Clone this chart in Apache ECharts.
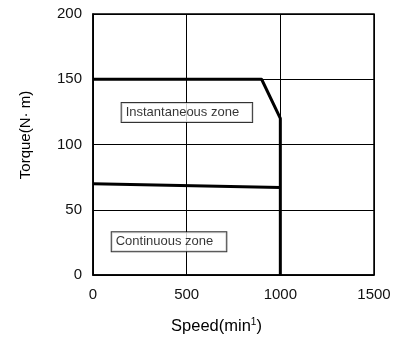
<!DOCTYPE html>
<html>
<head>
<meta charset="utf-8">
<script src="https://cdn.jsdelivr.net/npm/echarts@6/dist/echarts.min.js"></script>
<style>
  html, body { margin: 0; padding: 0; background: #fff; }
  #chart { width: 403px; height: 337px; }
</style>
</head>
<body>
<div id="chart"></div>
<script>
// Torque–speed envelope of the servo motor
const speedTicks = [0, 500, 1000, 1500];
const torqueTicks = [0, 50, 100, 150, 200];

// Instantaneous (peak) torque limit
const instSpeed = [0, 900, 1000, 1000];
const instTorque = [150, 150, 120, 0];

// Continuous (rated) torque limit
const contSpeed = [0, 1000];
const contTorque = [70, 67];

// Zone captions, anchored at the left edge of each box
const zoneNames = ['Instantaneous zone', 'Continuous zone'];
const zoneSpeed = [153, 100];
const zoneTorque = [124.5, 25.5];

const font = 'Liberation Sans, Arial, sans-serif';

const chart = echarts.init(document.getElementById('chart'), null, { renderer: 'canvas' });

chart.setOption({
  animation: false,
  backgroundColor: '#fff',
  grid: {
    left: 93, top: 14, right: 29, bottom: 62,
    outerBoundsMode: 'none',
    containLabel: false,
    show: true, borderColor: '#000', borderWidth: 1.5, backgroundColor: 'transparent'
  },
  xAxis: {
    type: 'value',
    min: speedTicks[0], max: speedTicks[speedTicks.length - 1], interval: 500,
    name: '{a|Speed(min}{s|1}{a|)}',
    nameLocation: 'middle',
    nameGap: 42,
    nameTextStyle: {
      padding: [0, 34, 0, 0],
      rich: {
        a: { fontFamily: font, fontSize: 16.5, color: '#000', lineHeight: 18 },
        s: { fontFamily: font, fontSize: 10, color: '#000', lineHeight: 18, padding: [0, 0, 8, 0] }
      }
    },
    axisLine: { show: true, lineStyle: { color: '#000', width: 1.5 } },
    axisTick: { show: false },
    axisLabel: { color: '#111', fontFamily: font, fontSize: 15, margin: 12, formatter: v => String(v) },
    splitLine: { show: true, lineStyle: { color: '#000', width: 1 } }
  },
  yAxis: {
    type: 'value',
    min: torqueTicks[0], max: torqueTicks[torqueTicks.length - 1], interval: 50,
    name: 'Torque(N\u00b7 m)',
    nameLocation: 'middle',
    nameGap: 60,
    nameTextStyle: { fontFamily: font, fontSize: 15, color: '#000', padding: [0, 0, 0, 19] },
    axisLine: { show: true, lineStyle: { color: '#000', width: 1.5 } },
    axisTick: { show: false },
    axisLabel: { color: '#111', fontFamily: font, fontSize: 15, margin: 11, formatter: v => String(v) },
    splitLine: { show: true, lineStyle: { color: '#000', width: 1 } }
  },
  series: [
    {
      type: 'line',
      data: instSpeed.map((s, i) => [s, instTorque[i]]),
      symbol: 'none',
      lineStyle: { color: '#000', width: 3 },
      z: 5
    },
    {
      type: 'line',
      data: contSpeed.map((s, i) => [s, contTorque[i]]),
      symbol: 'none',
      lineStyle: { color: '#000', width: 3 },
      z: 5
    },
    {
      type: 'scatter',
      data: zoneNames.map((n, i) => ({ value: [zoneSpeed[i], zoneTorque[i]], name: n })),
      symbolSize: 0,
      z: 10,
      label: {
        show: true,
        position: 'right',
        distance: 0,
        formatter: p => p.name,
        fontFamily: font,
        fontSize: 13,
        color: '#000',
        backgroundColor: '#fff',
        borderColor: '#000',
        borderWidth: 1,
        padding: [3, 13, 3, 4]
      }
    }
  ]
});
</script>
</body>
</html>
